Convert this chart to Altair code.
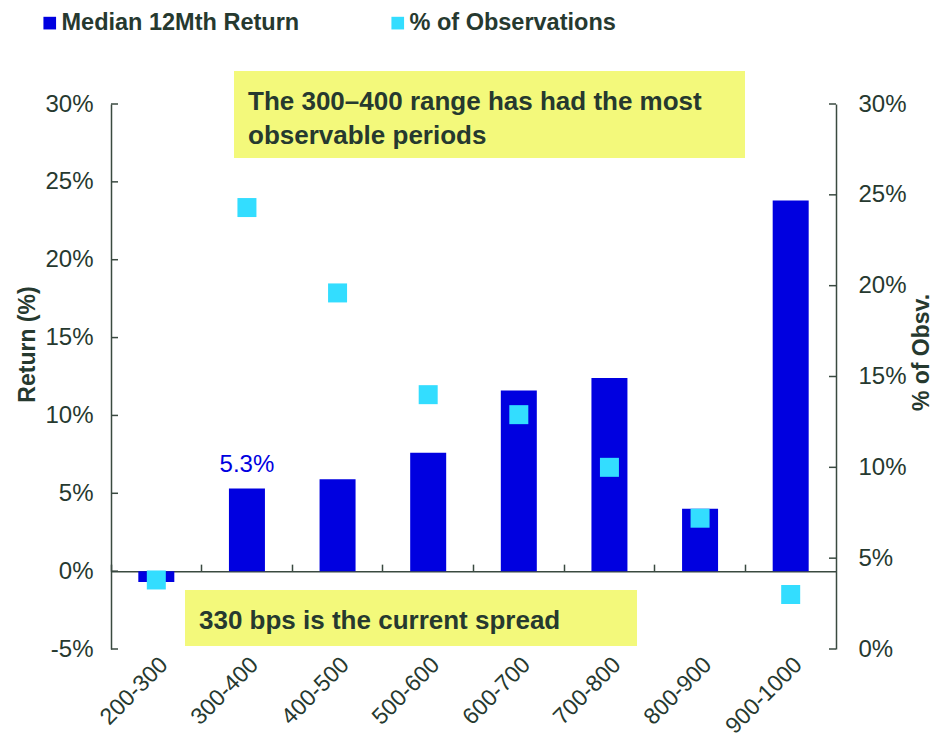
import altair as alt
import pandas as pd

# ---------------- data ----------------
categories = ["200-300", "300-400", "400-500", "500-600",
              "600-700", "700-800", "800-900", "900-1000"]
median_return = [-0.007, 0.053, 0.059, 0.076, 0.116, 0.124, 0.040, 0.238]
pct_observations = [0.038, 0.243, 0.196, 0.140, 0.129, 0.100, 0.072, 0.030]
left_tick_values = [-0.05, 0.0, 0.05, 0.10, 0.15, 0.20, 0.25, 0.30]
right_tick_values = [0.0, 0.05, 0.10, 0.15, 0.20, 0.25, 0.30]
series_names = ["Median 12Mth Return", "% of Observations"]
series_colors = ["#0000E0", "#33DDFF"]
labelled_category = "300-400"
annotation_top = ["The 300\u2013400 range has had the most", "observable periods"]
annotation_bottom = "330 bps is the current spread"

# ---------------- style ----------------
W, H = 725, 545
FONT = "Liberation Sans"
TXT = "#26392F"
AXC = "#3A4A40"
BOX = "#F3F97B"
LEFT_DOMAIN = [-0.05, 0.30]
RIGHT_DOMAIN = [0.0, 0.30]
zero_px = H * (LEFT_DOMAIN[1] - 0) / (LEFT_DOMAIN[1] - LEFT_DOMAIN[0])
pct_label = "replace(format(datum.value, '.0%'), '\u2212', '-')"

df = pd.DataFrame({"cat": categories, "ret": median_return, "obs": pct_observations})
ticks_l = pd.DataFrame({"v": left_tick_values})
ticks_r = pd.DataFrame({"v": right_tick_values})
one = pd.DataFrame({"a": [0]})

xscale = alt.Scale(domain=categories, paddingInner=0, paddingOuter=0)
yL = alt.Scale(domain=LEFT_DOMAIN, nice=False, zero=False)
yR = alt.Scale(domain=RIGHT_DOMAIN, nice=False, zero=False)
cscale = alt.Scale(domain=series_names, range=series_colors)

legend = alt.Legend(
    orient="none", legendX=-73, legendY=-93, direction="horizontal",
    title=None, columnPadding=86, symbolType="square", symbolSize=160,
    symbolStrokeWidth=0, labelFont=FONT, labelFontSize=23.5, labelFontWeight="bold",
    labelColor=TXT, labelOffset=0, padding=0, labelLimit=500,
)

x_none = alt.X("cat:N", sort=categories, scale=xscale, axis=None)

x_bottom = alt.X("cat:N", sort=categories, scale=xscale, axis=alt.Axis(
    orient="bottom", title=None, labelAngle=-45, labelAlign="right",
    labelBaseline="top", labelFont=FONT, labelFontSize=23, labelColor=TXT,
    labelPadding=4, domain=False, ticks=False))

x_top = alt.X("cat:N", sort=categories, scale=xscale, axis=alt.Axis(
    orient="top", title=None, labels=False, offset=-zero_px, bandPosition=0,
    tickSize=7, tickColor=AXC, tickWidth=1.5, domainColor=AXC, domainWidth=1.5))

left_axis = alt.Axis(
    orient="left", values=left_tick_values, labelExpr=pct_label, tickSize=0,
    labelPadding=18, labelFont=FONT, labelFontSize=24, labelColor=TXT,
    domainColor=AXC, domainWidth=1.5, grid=False,
    title="Return (%)", titleFont=FONT, titleFontSize=23, titleFontWeight="bold",
    titleColor=TXT, titleAngle=270, titleX=-84, titleY=240,
    titleBaseline="middle", titleAlign="center")

right_axis = alt.Axis(
    orient="right", values=right_tick_values, labelExpr=pct_label, tickSize=0,
    labelPadding=22, labelAlign="left", labelFont=FONT, labelFontSize=24,
    labelColor=TXT, domainColor=AXC, domainWidth=1.5, grid=False,
    title="% of Obsv.", titleFont=FONT, titleFontSize=23, titleFontWeight="bold",
    titleColor=TXT, titleAngle=270, titleX=85, titleY=248,
    titleBaseline="middle", titleAlign="center")

# invisible layer carrying the zero line (top axis moved to y=0)
zero_axis = alt.Chart(df).mark_point(opacity=0).encode(
    x=x_top, y=alt.Y("ret:Q", scale=yL, axis=None))

bars = alt.Chart(df).transform_calculate(series="'%s'" % series_names[0]).mark_bar(size=36).encode(
    x=x_bottom,
    y=alt.Y("ret:Q", scale=yL, axis=left_axis),
    color=alt.Color("series:N", scale=cscale, legend=legend),
)

label = alt.Chart(df).transform_filter(alt.datum.cat == labelled_category).mark_text(
    color=series_colors[0], font=FONT, fontSize=24, baseline="bottom", dy=-12
).encode(
    x=x_none,
    y=alt.Y("ret:Q", scale=yL, axis=None),
    text=alt.Text("ret:Q", format=".1%"),
)

lticks = alt.Chart(ticks_l).mark_rule(color=AXC, strokeWidth=1.5).encode(
    y=alt.Y("v:Q", scale=yL, axis=None), x=alt.value(0), x2=alt.value(7))

squares = alt.Chart(df).transform_calculate(series="'%s'" % series_names[1]).mark_square(
    size=361, opacity=1).encode(
    x=x_none,
    y=alt.Y("obs:Q", scale=yR, axis=right_axis),
    color=alt.Color("series:N", scale=cscale, legend=legend),
)

rticks = alt.Chart(ticks_r).mark_rule(color=AXC, strokeWidth=1.5).encode(
    y=alt.Y("v:Q", scale=yR, axis=None), x=alt.value(W - 7), x2=alt.value(W))

box_top = alt.Chart(one).mark_rect(color=BOX).encode(
    x=alt.value(123), x2=alt.value(634), y=alt.value(-33), y2=alt.value(54))
text_top = alt.Chart(one).mark_text(
    text=annotation_top, align="left", baseline="alphabetic", font=FONT,
    fontSize=26, fontWeight="bold", color=TXT, lineHeight=34
).encode(x=alt.value(137), y=alt.value(6))

box_bot = alt.Chart(one).mark_rect(color=BOX).encode(
    x=alt.value(74), x2=alt.value(526), y=alt.value(486), y2=alt.value(542))
text_bot = alt.Chart(one).mark_text(
    text=annotation_bottom, align="left", baseline="alphabetic", font=FONT,
    fontSize=26, fontWeight="bold", color=TXT
).encode(x=alt.value(88), y=alt.value(525))

chart = alt.layer(
    zero_axis, bars, label, lticks, squares, rticks,
    box_top, text_top, box_bot, text_bot
).resolve_scale(y="independent").resolve_axis(x="independent").properties(
    width=W, height=H,
    autosize=alt.AutoSizeParams(type="none"),
    padding={"left": 103, "top": 96, "right": 96, "bottom": 88},
    background="white",
).configure_view(stroke=None)

chart.save("out.html", embed_options={"renderer": "svg", "actions": False})
